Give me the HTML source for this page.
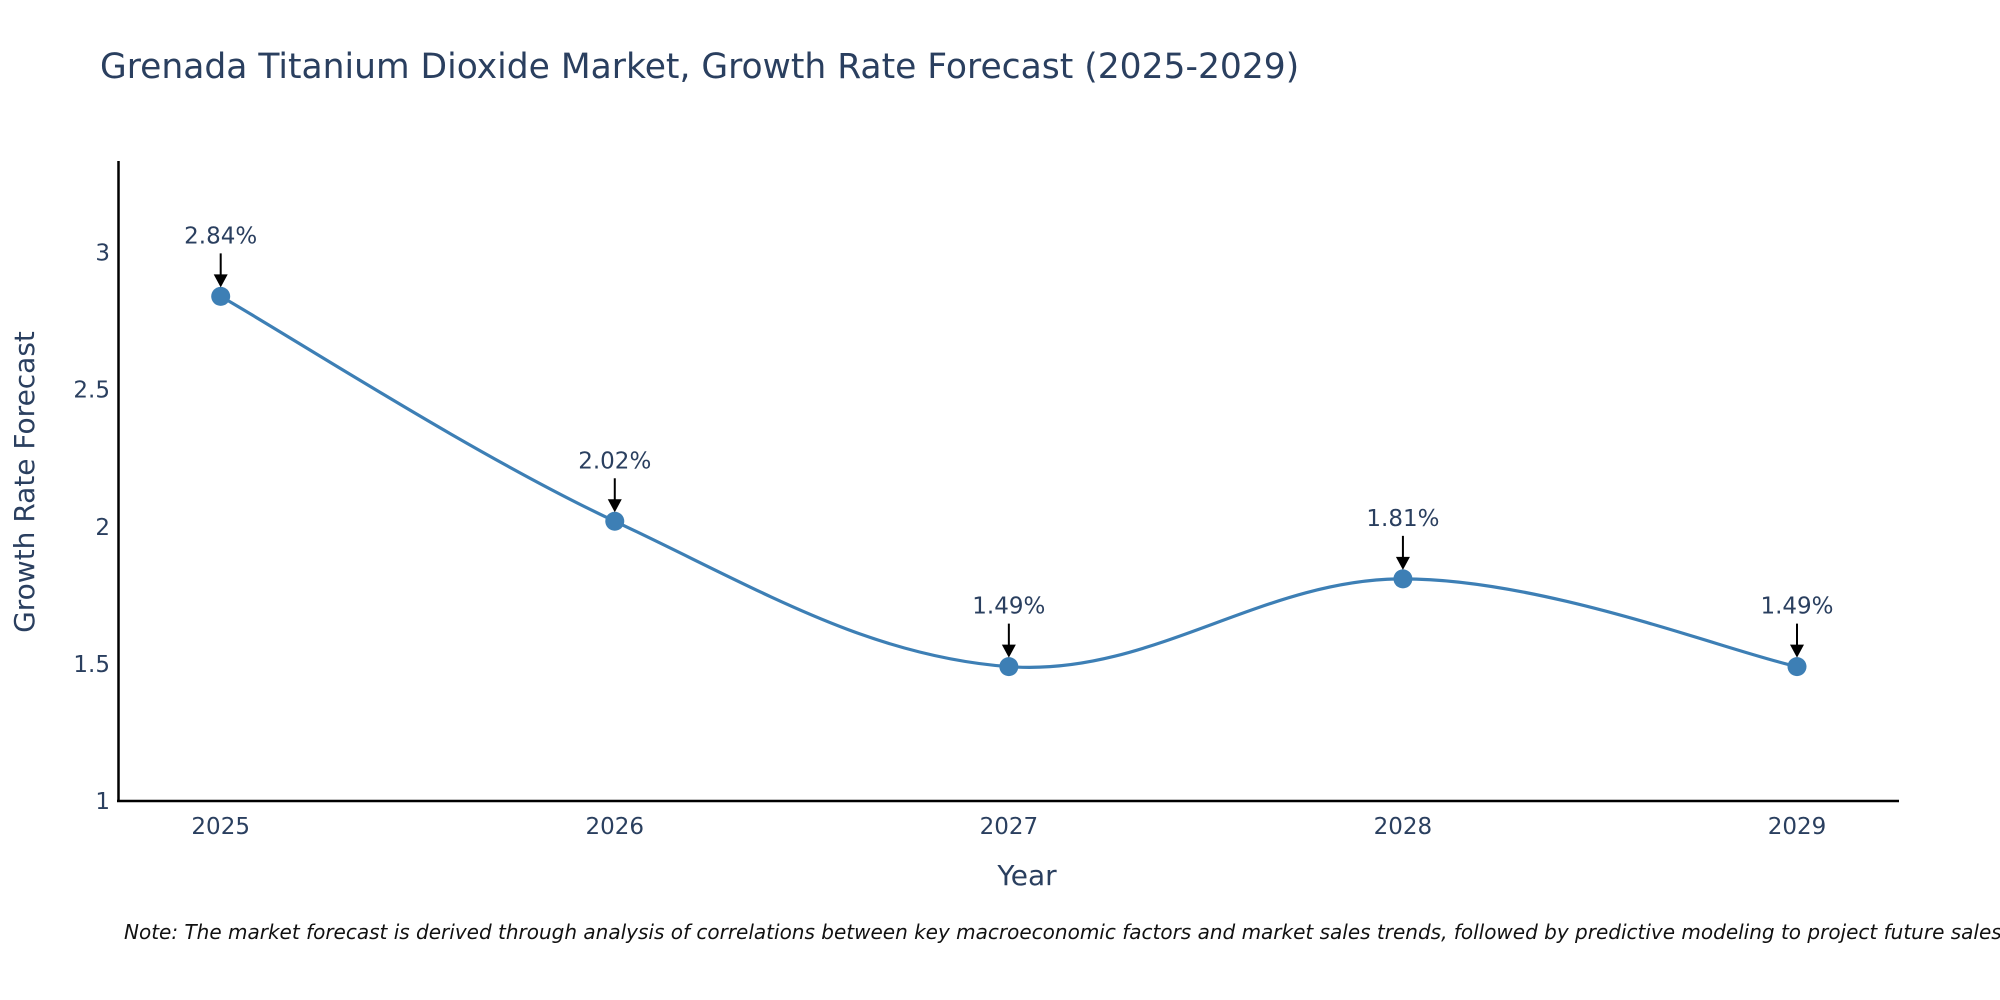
<!DOCTYPE html>
<html><head><meta charset="utf-8"><style>
body{margin:0;background:#fff;}
svg{display:block;font-family:"DejaVu Sans","Liberation Sans",sans-serif;}
</style></head><body>
<svg id="chart" width="2000" height="1000">
<text x="100" y="78" font-size="34.5" fill="#2a3f5f">Grenada Titanium Dioxide Market, Growth Rate Forecast (2025-2029)</text>
<g id="yticks"></g><g id="xticks"></g>
<line x1="118.5" y1="161" x2="118.5" y2="802" stroke="#000" stroke-width="2.5"/>
<line x1="117" y1="801" x2="1899" y2="801" stroke="#000" stroke-width="2.5"/>
<path id="line" fill="none" stroke="#3d7fb5" stroke-width="3.2"/>
<g id="marks"></g>
<text x="0" y="0" transform="translate(34,482) rotate(-90)" text-anchor="middle" font-size="28" fill="#2a3f5f">Growth Rate Forecast</text>
<text x="1027" y="885" text-anchor="middle" font-size="28" fill="#2a3f5f">Year</text>
<text x="124" y="939" font-size="20" font-style="italic" fill="#111">Note: The market forecast is derived through analysis of correlations between key macroeconomic factors and market sales trends, followed by predictive modeling to project future sales.</text>
</svg>
<script>
const years=["2025","2026","2027","2028","2029"];
const values=[2.84,2.02,1.49,1.81,1.49];
const labels=["2.84%","2.02%","1.49%","1.81%","1.49%"];
const yTicks=[1,1.5,2,2.5,3];
const NS="http://www.w3.org/2000/svg";
const xs=i=>220.7+i*(1797-220.7)/(years.length-1);
const ys=v=>801-(v-1)*(801-252.5)/2;
function mk(t,a,p){const e=document.createElementNS(NS,t);for(const k in a)e.setAttribute(k,a[k]);p.appendChild(e);return e;}
const yt=document.getElementById('yticks');
yTicks.forEach(v=>{const t=mk('text',{x:110,y:ys(v)+8,'text-anchor':'end','font-size':23,fill:'#2a3f5f'},yt);t.textContent=v;

});
const xt=document.getElementById('xticks');
years.forEach((y,i)=>{const t=mk('text',{x:xs(i),y:834,'text-anchor':'middle','font-size':23,fill:'#2a3f5f'},xt);t.textContent=y;

});
const P=values.map((v,i)=>[xs(i),ys(v)]);
let d=`M${P[0][0]},${P[0][1]}`;const k=0.18;
for(let i=0;i<P.length-1;i++){const p0=P[Math.max(0,i-1)],p1=P[i],p2=P[i+1],p3=P[Math.min(P.length-1,i+2)];
d+=` C${p1[0]+(p2[0]-p0[0])*k},${p1[1]+(p2[1]-p0[1])*k} ${p2[0]-(p3[0]-p1[0])*k},${p2[1]-(p3[1]-p1[1])*k} ${p2[0]},${p2[1]}`;}
document.getElementById('line').setAttribute('d',d);
const m=document.getElementById('marks');
P.forEach((p,i)=>{const c=mk('circle',{cx:p[0],cy:p[1],r:9.5,fill:'#3d7fb5'},m);


const l=mk('line',{x1:p[0],y1:p[1]-43,x2:p[0],y2:p[1]-20,stroke:'#000','stroke-width':2},m);


const h=mk('polygon',{points:`${p[0]-7},${p[1]-22} ${p[0]+7},${p[1]-22} ${p[0]},${p[1]-9}`,fill:'#000'},m);


const t=mk('text',{x:p[0],y:p[1]-53,'text-anchor':'middle','font-size':23,fill:'#2a3f5f'},m);t.textContent=labels[i];

});
</script>
</body></html>
